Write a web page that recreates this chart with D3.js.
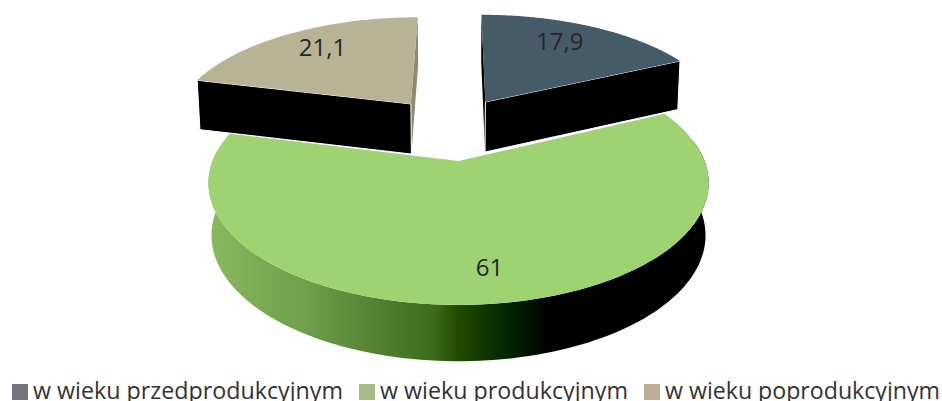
<!DOCTYPE html>
<html>
<head>
<meta charset="utf-8">
<script src="https://cdn.jsdelivr.net/npm/d3@7"></script>
<style>
    html, body { margin: 0; padding: 0; background: #fff; overflow: hidden; }
    svg { display: block; }
    text { font-family: "Open Sans", sans-serif; fill: #262626; }
</style>
</head>
<body>
<svg id="disp" width="942" height="401"></svg>
<script>
// chart data
let categories = ["w wieku przedprodukcyjnym", "w wieku produkcyjnym", "w wieku poprodukcyjnym"];
let values = [17.9, 61, 21.1];
let valueLabels = ["17,9", "61", "21,1"];

// styles
let topColors = ["#465b68", "#9fd271", "#b8b394"];
let legendColors = ["#75757d", "#a8bb87", "#bfae97"];
let innerCutColors = ["#000", null, "#8f8a6e"];
let explode = [[0.12, -0.55], [0, 0], [-0.212, -0.53]];
let radii = [1.045, 1, 1.03];
let labelNudge = [[-6, -3], [9, 1], [4, -2]];
let legendX = [12, 359, 644];
let legendWidths = [310, 248, 275];
let rimStops = [[0, "#8ab95f"], [0.2, "#6f9f4c"], [0.45, "#3c6b1c"], [0.5, "#234a00"], [0.6, "#002400"], [0.68, "#000"], [1, "#000"]];

// perspective of the pie plane, fitted on the picture
let cx = 458.5, cy = 161, A = 246, B = 118, D = 52, k = 0.18, m = 0.012;

function project(u, v, z) {
    let w = 1 - k * v;
    return [cx + A * u / (w + m * z), cy + B * v / w + D * z / Math.pow(w, 0.4)];
}

function rimPoint(angle, r, off, z) {
    return project(r * Math.sin(angle) + off[0], -r * Math.cos(angle) + off[1], z);
}

function arcPoints(a0, a1, r, off, z) {
    return d3.range(0, 121).map(i => rimPoint(a0 + (a1 - a0) * i / 120, r, off, z));
}

let line = d3.line();
let svg = d3.select("#disp");

let grad = svg.append("defs").append("linearGradient")
    .attr("id", "rim")
    .attr("gradientUnits", "userSpaceOnUse")
    .attr("x1", 205).attr("x2", 712).attr("y1", 0).attr("y2", 0);
grad.selectAll("stop").data(rimStops).join("stop")
    .attr("offset", d => d[0])
    .attr("stop-color", d => d[1]);

let arcs = d3.pie().sort(null).value(d => d)(values);

// green slice goes first, the two exploded ones sit on top of it
let order = [1, 2, 0];
let pieG = svg.append("g");

order.forEach(function (i) {
    let a = arcs[i], off = explode[i], r = radii[i];
    let g = pieG.append("g");
    let apexTop = project(off[0], off[1], 0), apexBot = project(off[0], off[1], 1);
    if (i === 1) {
        // outer rim, only the part facing the viewer
        let from = d3.scaleLinear().domain([0, 1]).range([a.startAngle, a.endAngle]);
        let ring = arcPoints(from(0.07), from(0.96), r, off, 0)
            .concat(arcPoints(from(0.07), from(0.96), r, off, 1).reverse());
        g.append("path").attr("d", line(ring) + "Z").attr("fill", "url(#rim)");
    } else {
        // cut faces: the inner one is nearly edge on, the front one is black with a white seam
        let front = i === 0 ? a.endAngle : a.startAngle;
        let inner = i === 0 ? a.startAngle : a.endAngle;
        g.append("path")
            .attr("d", line([apexTop, rimPoint(inner, r, off, 0), rimPoint(inner, r, off, 1), apexBot]) + "Z")
            .attr("fill", innerCutColors[i]);
        g.append("path")
            .attr("d", line([apexTop, rimPoint(front, r, off, 0), rimPoint(front, r, off, 1), apexBot]) + "Z")
            .attr("fill", "#000")
            .attr("stroke", "#fff").attr("stroke-width", 1);
    }
    let top = [apexTop].concat(arcPoints(a.startAngle, a.endAngle, r, off, 0));
    g.append("path").attr("d", line(top) + "Z").attr("fill", topColors[i]);
});

// value labels
svg.append("g").selectAll("text").data(arcs).join("text")
    .attr("transform", function (d) {
        let p = rimPoint((d.startAngle + d.endAngle) / 2, 0.77, explode[d.index], 0);
        let n = labelNudge[d.index];
        return "translate(" + (p[0] + n[0]) + "," + (p[1] + n[1]) + ")";
    })
    .attr("text-anchor", "middle")
    .attr("dy", "0.36em")
    .attr("font-size", 24)
    .text(d => valueLabels[d.index]);

// legend, the text runs off the bottom of the picture
let legend = svg.append("g").selectAll("g").data(categories).join("g")
    .attr("transform", (d, i) => "translate(" + legendX[i] + ",384)");
legend.append("rect")
    .attr("width", 16).attr("height", 16)
    .attr("fill", (d, i) => legendColors[i]);
legend.append("text")
    .attr("x", 21).attr("y", 15)
    .attr("font-size", 23)
    .style("fill", "#333")
    .attr("textLength", (d, i) => legendWidths[i])
    .attr("lengthAdjust", "spacingAndGlyphs")
    .text(d => d);
</script>
</body>
</html>
